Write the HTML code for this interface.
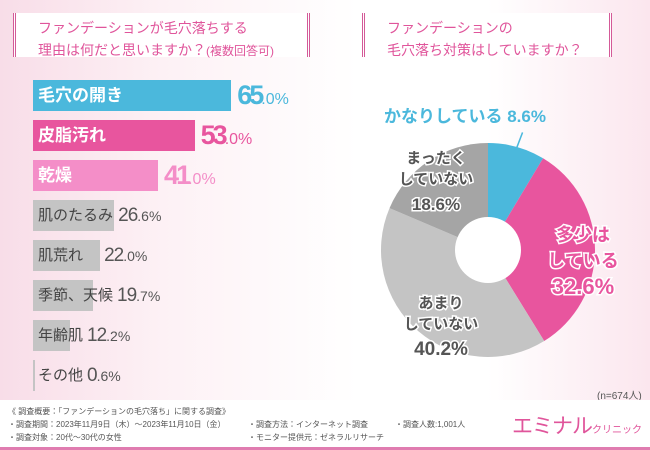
<!DOCTYPE html>
<html><head><meta charset="utf-8">
<style>
body{margin:0;width:650px;height:450px;overflow:hidden;font-family:"Liberation Sans","Noto Sans CJK JP",sans-serif;}
#root{position:relative;width:650px;height:450px;background:linear-gradient(90deg,#f8dde8 0%,#fdf1f5 25%,#fff 55%,#fff 75%,#fbe6ee 100%);}
.title{position:absolute;background:#fff;color:#e0559b;font-size:14px;line-height:22px;padding:4px 0 0 22px;box-sizing:border-box;border-left:3px double #d45a98;border-right:3px double #d45a98;}
.bar{position:absolute;height:31px;}
.lab{position:absolute;font-size:17px;line-height:31px;white-space:nowrap;font-weight:bold;padding-left:5px;}
.val{position:absolute;white-space:nowrap;line-height:31px;}
.big{font-size:27px;letter-spacing:-3px;font-weight:bold}
.sm{font-size:14px}
#footer{position:absolute;left:0;top:400px;width:650px;height:47px;background:#fff;border-bottom:3px solid #e07cb0;font-size:8px;color:#555;}
#footer div{position:absolute;white-space:nowrap}
</style></head><body>
<div id="root">
<div class="title" style="left:13px;top:13px;width:297px;height:44px">ファンデーションが毛穴落ちする<br>理由は何だと思いますか？<span style="font-size:12px">(複数回答可)</span></div>
<div class="title" style="left:362px;top:13px;width:250px;height:44px">ファンデーションの<br>毛穴落ち対策はしていますか？</div>
<div id="bars"></div>
<svg id="pie" width="650" height="450" style="position:absolute;left:0;top:0"></svg>
<div style="position:absolute;left:597px;top:387px;font-size:10px;color:#555">(n=674人)</div>
<div id="footer">
<div style="left:8px;top:6px">《 調査概要：「ファンデーションの毛穴落ち」に関する調査》</div>
<div style="left:8px;top:19px">・調査期間：2023年11月9日（木）～2023年11月10日（金）</div>
<div style="left:8px;top:32px">・調査対象：20代～30代の女性</div>
<div style="left:248px;top:19px">・調査方法：インターネット調査</div>
<div style="left:248px;top:32px">・モニター提供元：ゼネラルリサーチ</div>
<div style="left:395px;top:19px">・調査人数:1,001人</div>
<div style="left:512px;top:10px;font-size:21px;color:#e0559b;letter-spacing:-1px">エミナル<span style="font-size:10px;letter-spacing:0">クリニック</span></div>
</div>
</div>
<script>
const barCats=["毛穴の開き","皮脂汚れ","乾燥","肌のたるみ","肌荒れ","季節、天候","年齢肌","その他"];
const barVals=[65.0,53.0,41.0,26.6,22.0,19.7,12.2,0.6];
const pieCats=["かなりしている","多少はしている","あまりしていない","まったくしていない"];
const pieVals=[8.6,32.6,40.2,18.6];

const barColors=["#4bb8dc","#e8559e","#f48ec8","#c4c4c4","#c4c4c4","#c4c4c4","#c4c4c4","#c4c4c4"];
const x0=33,pxPer=3.05,y0=80,step=40;
const xs=v=>v*pxPer;
const host=document.getElementById('bars');
barCats.forEach((c,i)=>{
  const y=y0+i*step;const w=Math.max(xs(barVals[i]),2);
  const b=document.createElement('div');b.className='bar';
  
  
  b.style.cssText=`left:${x0}px;top:${y}px;width:${w}px;background:${barColors[i]}`;host.appendChild(b);
  const l=document.createElement('div');l.className='lab';
  
  
  l.textContent=c;l.style.top=y+'px';l.style.left=x0+'px';
  l.style.color=i<3?'#fff':'#444';if(i>=3){l.style.fontSize='15px';l.style.fontWeight='normal';}
  host.appendChild(l);
  const v=document.createElement('div');v.className='val';
  
  
  const s=barVals[i].toFixed(1).split('.');
  v.innerHTML=i<3?`<span class="big">${s[0]}</span><span style="font-size:16px">.${s[1]}%</span>`:`<span style="font-size:19px;letter-spacing:-1px">${s[0]}</span><span class="sm">.${s[1]}%</span>`;
  v.style.color=i<3?barColors[i]:'#555';v.style.top=y+'px';
  const endx=i<3?x0+w:Math.max(x0+w,x0+l.offsetWidth);
  v.style.left=(endx+(i<3?6:4))+'px';host.appendChild(v);
});
const svg=document.getElementById('pie');const NS='http://www.w3.org/2000/svg';
const cx=488,cy=250,R=107,r=33;const pieColors=["#4bb8dc","#e8559e","#c4c4c4","#a5a5a5"];
const total=pieVals.reduce((a,b)=>a+b,0);let acc=0;
const pt=(a,rr)=>[cx+rr*Math.sin(a),cy-rr*Math.cos(a)];
pieVals.forEach((v,i)=>{
  const a0=acc/total*2*Math.PI;acc+=v;const a1=acc/total*2*Math.PI;
  const lg=(a1-a0)>Math.PI?1:0;const p0=pt(a0,R),p1=pt(a1,R);
  const p=document.createElementNS(NS,'path');
  p.setAttribute('d',`M${cx},${cy}L${p0[0]},${p0[1]}A${R},${R} 0 ${lg} 1 ${p1[0]},${p1[1]}Z`);
  p.setAttribute('fill',pieColors[i]);
  
  
  svg.appendChild(p);
});
const hole=document.createElementNS(NS,'circle');hole.setAttribute('cx',cx);hole.setAttribute('cy',cy);hole.setAttribute('r',r);hole.setAttribute('fill','#fff');


svg.appendChild(hole);
const la=pieVals[0]/total*Math.PI;const lp=pt(la,R-5),lq=pt(la,R+15);
const ln=document.createElementNS(NS,'line');ln.setAttribute('x1',lp[0]);ln.setAttribute('y1',lp[1]);ln.setAttribute('x2',lq[0]+2);ln.setAttribute('y2',lq[1]);ln.setAttribute('stroke','#4bb8dc');ln.setAttribute('stroke-width','1.5');


svg.appendChild(ln);
function txt(x,y,s,size,fill,stroke){const t=document.createElementNS(NS,'text');t.setAttribute('x',x);t.setAttribute('y',y);t.setAttribute('text-anchor','middle');t.setAttribute('font-size',size);t.setAttribute('font-weight','bold');t.setAttribute('fill',fill);if(stroke){t.setAttribute('stroke',stroke);t.setAttribute('stroke-width','3');t.setAttribute('paint-order','stroke');}t.textContent=s;


svg.appendChild(t);}
const pv=pieVals.map(v=>v.toFixed(1)+'%');
txt(465,122,'かなりしている '+pv[0],17,'#4bb8dc');
txt(583,241,'多少は',18,'#e8559e','#fff');txt(583,267,'している',18,'#e8559e','#fff');txt(583,294,pv[1],22,'#e8559e','#fff');
txt(441,308,'あまり',15,'#555','#fff');txt(441,329,'していない',15,'#555','#fff');txt(441,355,pv[2],19,'#555','#fff');
txt(436,163,'まったく',15,'#555','#fff');txt(436,184,'していない',15,'#555','#fff');txt(436,210,pv[3],17,'#555','#fff');
</script>
</body></html>
